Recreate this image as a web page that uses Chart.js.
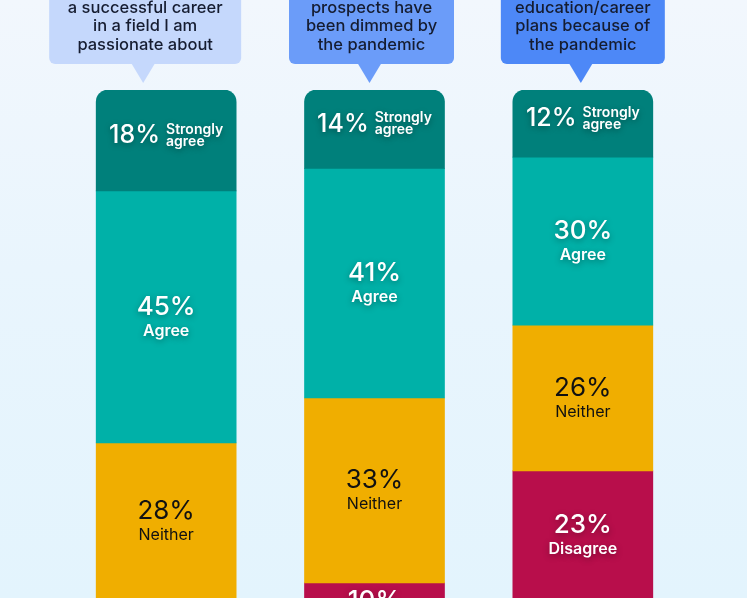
<!DOCTYPE html>
<html>
<head>
<meta charset="utf-8">
<script src="https://cdn.jsdelivr.net/npm/chart.js@4"></script>
<style>
  html, body { margin: 0; padding: 0; overflow: hidden; }
  body {
    width: 747px; height: 598px;
    background: linear-gradient(180deg, #f2f7fd 0%, #e9f5fd 45%, #e3f4fd 100%);
  }
  #wrap { position: absolute; left: 0; top: 0; width: 747px; height: 650px; }
</style>
</head>
<body>
<div id="wrap"><canvas id="chart"></canvas></div>
<script>
  // survey statements (only the lines visible in the crop)
  const questions = [
    ['a successful career', 'in a field I am', 'passionate about'],
    ['prospects have', 'been dimmed by', 'the pandemic'],
    ['education/career', 'plans because of', 'the pandemic']
  ];
  const categories = ['Successful career', 'Prospects dimmed', 'Changed plans'];
  const segmentNames = ['Strongly agree', 'Agree', 'Neither', 'Disagree'];

  const stronglyAgree = [18, 14, 12];
  const agree = [45, 41, 30];
  const neither = [28, 33, 26];
  const disagree = [9, 10, 23];

  // styling
  const segmentColors = ['#00807b', '#00b1a8', '#f0ae00', '#b80e4b'];
  const labelColors = ['#ffffff', '#ffffff', '#111111', '#ffffff'];
  const bubbleColors = ['#c5d8fc', '#6b9cf9', '#4d88f7'];
  const bubbleWidths = [192, 165, 164];
  const bubbleShift = [-21, -3, 0];
  const FONT = 'Inter, "Noto Sans", sans-serif';

  const series = [stronglyAgree, agree, neither, disagree];

  const bubbles = {
    id: 'bubbles',
    afterDraw(chart) {
      const ctx = chart.ctx;
      const xs = chart.scales.x;
      const top = chart.chartArea.top;
      questions.forEach((lines, i) => {
        const cx = xs.getPixelForValue(i) + bubbleShift[i];
        const w = bubbleWidths[i];
        const bottom = top - 26;
        const left = cx - w / 2;
        ctx.save();
        ctx.fillStyle = bubbleColors[i];
        ctx.beginPath();
        ctx.roundRect(left, -80, w, bottom + 80, 6);
        ctx.fill();
        ctx.beginPath();
        ctx.moveTo(cx - 2 - 12, bottom - 1);
        ctx.lineTo(cx - 2 + 12, bottom - 1);
        ctx.lineTo(cx - 2, top - 7);
        ctx.closePath();
        ctx.fill();
        ctx.fillStyle = '#151c30';
        ctx.font = '500 16.5px ' + FONT;
        ctx.textAlign = 'center';
        ctx.textBaseline = 'middle';
        lines.forEach((t, k) => {
          const y = bottom - 19 - (lines.length - 1 - k) * 18.5;
          ctx.fillText(t, cx, y);
        });
        ctx.restore();
      });
    }
  };

  const segLabels = {
    id: 'segLabels',
    afterDatasetsDraw(chart) {
      const ctx = chart.ctx;
      chart.data.datasets.forEach((ds, d) => {
        chart.getDatasetMeta(d).data.forEach((bar, i) => {
          const cx = bar.x;
          const cy = (bar.y + bar.base) / 2;
          const pct = ds.data[i] + '%';
          ctx.save();
          ctx.fillStyle = labelColors[d];
          if (labelColors[d] === '#ffffff') {
            ctx.shadowColor = 'rgba(0,0,0,0.35)';
            ctx.shadowBlur = 6;
            ctx.shadowOffsetY = 2;
          }
          ctx.textBaseline = 'middle';
          if (d === 0) {
            const words = ds.label.split(' ');
            ctx.font = '500 25px ' + FONT;
            const wp = ctx.measureText(pct).width;
            ctx.font = '600 14px ' + FONT;
            const ww = Math.max(...words.map(t => ctx.measureText(t).width));
            const x0 = cx - (wp + 6 + ww) / 2;
            ctx.textAlign = 'left';
            ctx.font = '500 25px ' + FONT;
            ctx.fillText(pct, x0, cy - 5);
            ctx.font = '600 14px ' + FONT;
            ctx.fillText(words[0], x0 + wp + 6, cy - 11);
            ctx.fillText(words[1], x0 + wp + 6, cy + 1);
          } else {
            ctx.textAlign = 'center';
            ctx.font = (d === 2 ? '400' : '500') + ' 26px ' + FONT;
            ctx.fillText(pct, cx, cy - 10);
            ctx.font = (d === 2 ? '400' : '600') + ' 16px ' + FONT;
            ctx.fillText(ds.label, cx, cy + 14);
          }
          ctx.restore();
        });
      });
    }
  };

  new Chart(document.getElementById('chart'), {
    type: 'bar',
    data: {
      labels: categories,
      datasets: series.map((vals, d) => ({
        label: segmentNames[d],
        data: vals,
        backgroundColor: segmentColors[d],
        barThickness: 140,
        borderSkipped: false,
        borderWidth: 0,
        borderRadius: d === 0 ? { topLeft: 12, topRight: 12, bottomLeft: 0, bottomRight: 0 } : 0
      }))
    },
    options: {
      responsive: true,
      maintainAspectRatio: false,
      animation: false,
      layout: { padding: { top: 90, bottom: 0, left: 62, right: 60 } },
      plugins: { legend: { display: false }, tooltip: { enabled: false } },
      scales: {
        x: { stacked: true, display: false },
        y: { stacked: true, display: false, reverse: true, min: 0, max: 100 }
      }
    },
    plugins: [bubbles, segLabels]
  });
</script>
</body>
</html>
